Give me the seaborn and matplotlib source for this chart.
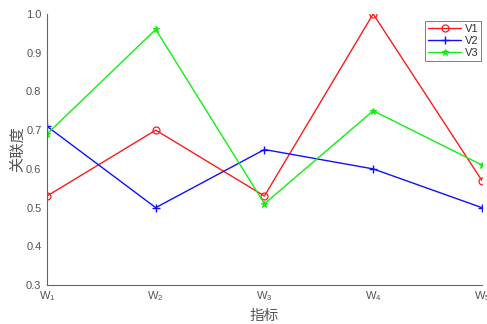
import matplotlib
matplotlib.use("Agg")
import matplotlib.pyplot as plt
import seaborn as sns
import pandas as pd

indicators = ["W$_1$", "W$_2$", "W$_3$", "W$_4$", "W$_5$"]
v1 = [0.53, 0.70, 0.53, 1.00, 0.57]
v2 = [0.71, 0.50, 0.65, 0.60, 0.50]
v3 = [0.69, 0.96, 0.51, 0.75, 0.61]

sns.set_style("white")
plt.rcParams["font.family"] = ["Liberation Sans", "Noto Sans CJK SC", "DejaVu Sans"]
plt.rcParams["mathtext.fontset"] = "custom"
plt.rcParams["mathtext.rm"] = "Liberation Sans"
plt.rcParams["mathtext.it"] = "Liberation Sans"

fig = plt.figure(figsize=(4.87, 3.24), dpi=100)
ax = fig.add_axes([0.0965, 0.12, 0.893, 0.837])

x = list(range(len(indicators)))
df = pd.DataFrame({"x": x * 3,
                   "y": v1 + v2 + v3,
                   "s": ["V1"] * 5 + ["V2"] * 5 + ["V3"] * 5})

styles = {
    "V1": dict(color="#ff1a1a", marker="o", mfc="none", mec="#ff1a1a", ms=5, mew=0.9),
    "V2": dict(color="#1010ff", marker="+", mec="#1010ff", ms=6, mew=1),
    "V3": dict(color="#10f010", marker="*", mfc="#10f010", mec="#10f010", ms=4.5, mew=0.8),
}
for name, st in styles.items():
    sub = df[df["s"] == name]
    sns.lineplot(data=sub, x="x", y="y", ax=ax, label=name, lw=1, **st)

ax.set_xlim(0, 4)
ax.set_ylim(0.3, 1.0)
ax.set_xticks(x)
ax.set_xticklabels(indicators)
yt = [0.3, 0.4, 0.5, 0.6, 0.7, 0.8, 0.9, 1.0]
ax.set_yticks(yt)
ax.set_yticklabels([f"{t:.1f}" for t in yt])

gray = "#555555"
for side in ["top", "right"]:
    ax.spines[side].set_visible(False)
for side in ["left", "bottom"]:
    ax.spines[side].set_color("#666666")
    ax.spines[side].set_linewidth(0.8)
ax.tick_params(direction="in", length=3, width=0.6, colors="#666666",
               labelcolor=gray, labelsize=8, pad=3)
ax.tick_params(axis="y", pad=4)

ax.set_xlabel("指标", family=["Noto Sans CJK SC"], fontsize=10.5, color=gray, labelpad=4)
ax.set_ylabel("关联度", family=["Noto Sans CJK SC"], fontsize=11, color=gray, labelpad=0)

leg = ax.legend(loc="upper right", bbox_to_anchor=(0.998, 0.974), borderaxespad=0,
                fontsize=8, frameon=True, fancybox=False, edgecolor="#444444",
                handlelength=3, borderpad=0.25, labelspacing=0.2, handletextpad=0.3)
leg.get_frame().set_linewidth(0.6)
for t in leg.get_texts():
    t.set_color("#333333")

fig.savefig("out.png", dpi=100)
